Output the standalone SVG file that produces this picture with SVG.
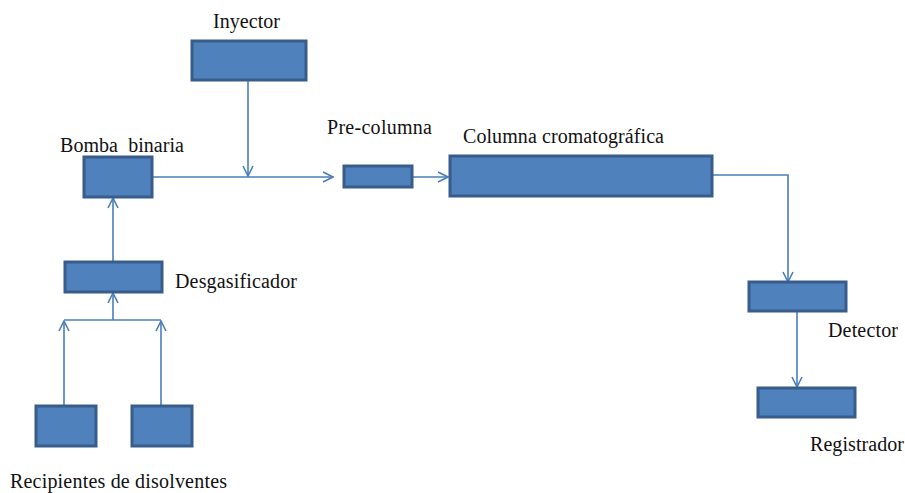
<svg xmlns="http://www.w3.org/2000/svg" width="905" height="493" viewBox="0 0 905 493">
<defs>
<style>
.box{fill:#4F81BD;stroke:#385D8A;stroke-width:3}
.ln{fill:none;stroke:#4A7EBB;stroke-width:1.6}
.t{font-family:'Liberation Serif','DejaVu Serif',serif;font-size:20px;fill:#111}
</style>
<marker id="ah" viewBox="0 0 12 12" refX="11" refY="6" markerWidth="12" markerHeight="12" markerUnits="userSpaceOnUse" orient="auto">
<path d="M1,1 L11,6 L1,11" fill="none" stroke="#4A7EBB" stroke-width="1.6"/>
</marker>
</defs>
<rect width="905" height="493" fill="#fff"/>
<g id="connectors">
<path class="ln" d="M152,177 H333" marker-end="url(#ah)"/>
<path class="ln" d="M248,80 V176" marker-end="url(#ah)"/>
<path class="ln" d="M412,177 H448" marker-end="url(#ah)"/>
<path class="ln" d="M712,175 H788 V282" marker-end="url(#ah)"/>
<path class="ln" d="M797,311 V387" marker-end="url(#ah)"/>
<path class="ln" d="M113,262 V198" marker-end="url(#ah)"/>
<path class="ln" d="M113,320 V293" marker-end="url(#ah)"/>
<path class="ln" d="M64,320 H161"/>
<path class="ln" d="M64,406 V321" marker-end="url(#ah)"/>
<path class="ln" d="M161,406 V321" marker-end="url(#ah)"/>
</g>
<g id="inyector"><rect class="box" x="192" y="41" width="114" height="39"/><text class="t" x="213" y="28" textLength="67">Inyector</text></g>
<g id="bomba"><rect class="box" x="84" y="157" width="68" height="40"/><text class="t" x="60" y="152" textLength="124" xml:space="preserve">Bomba  binaria</text></g>
<g id="precolumna"><rect class="box" x="344" y="166" width="68" height="21"/><text class="t" x="327" y="134" textLength="105">Pre-columna</text></g>
<g id="columna"><rect class="box" x="450" y="156" width="262" height="40"/><text class="t" x="463" y="143" textLength="201">Columna cromatográfica</text></g>
<g id="detector"><rect class="box" x="749" y="282" width="97" height="29"/><text class="t" x="828" y="337" textLength="70">Detector</text></g>
<g id="registrador"><rect class="box" x="758" y="388" width="97" height="29"/><text class="t" x="810" y="451" textLength="94">Registrador</text></g>
<g id="desgasificador"><rect class="box" x="65" y="262" width="97" height="30"/><text class="t" x="175" y="288" textLength="122">Desgasificador</text></g>
<g id="recipiente1"><rect class="box" x="36" y="406" width="60" height="40"/></g>
<g id="recipiente2"><rect class="box" x="132" y="406" width="60" height="40"/></g>
<g id="recipientes-label"><text class="t" x="10" y="488" textLength="217">Recipientes de disolventes</text></g>
</svg>
